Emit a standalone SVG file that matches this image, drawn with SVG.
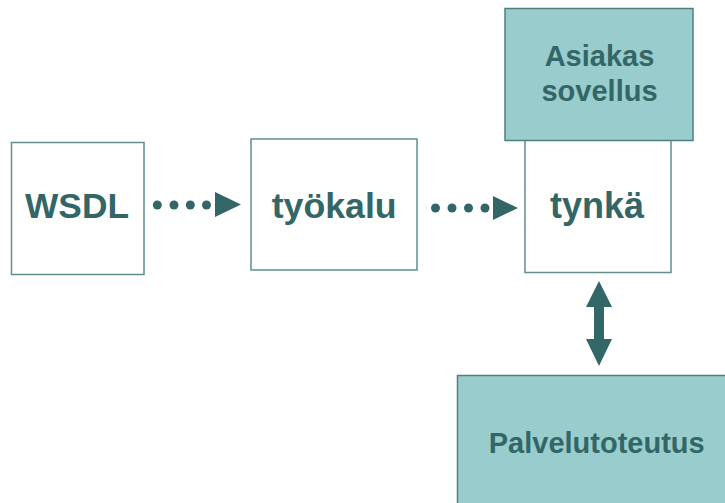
<svg xmlns="http://www.w3.org/2000/svg" width="725" height="503" viewBox="0 0 725 503">
<style>
.box{fill:#ffffff;stroke:#5f8f8f;stroke-width:1.5}
.fill{fill:#99cccc;stroke:#4f8080;stroke-width:1.5}
.t{font-family:"Liberation Sans",Arial,sans-serif;font-weight:bold;fill:#336666;text-anchor:middle}
.dot{fill:#336666}
</style>
<g id="wsdl"><rect class="box" x="11.5" y="142.5" width="132.5" height="132"/><text class="t" x="77" y="218" font-size="35.3">WSDL</text></g>
<g id="tyokalu"><rect class="box" x="251" y="139" width="166" height="131"/><text class="t" x="334.2" y="217.5" font-size="35.7">työkalu</text></g>
<g id="tynka"><rect class="box" x="525" y="138" width="146" height="134.5"/><text class="t" x="597" y="217.5" font-size="36">tynkä</text></g>
<g id="asiakas"><rect class="fill" x="505" y="8.5" width="188" height="132"/><text class="t" x="599.5" y="65.7" font-size="29">Asiakas</text><text class="t" x="599.5" y="101" font-size="29">sovellus</text></g>
<g id="palvelu"><rect class="fill" x="457.5" y="375.5" width="275" height="140"/><text class="t" x="596.7" y="452.7" font-size="29">Palvelutoteutus</text></g>
<g id="connectors">
<g class="dot"><circle cx="157.3" cy="205" r="4.5"/><circle cx="174" cy="205" r="4.5"/><circle cx="190.3" cy="205" r="4.5"/><circle cx="206.5" cy="205" r="4.5"/><polygon points="215,192 241,204.5 215,217"/></g>
<g class="dot"><circle cx="435.5" cy="208" r="4.5"/><circle cx="452" cy="208" r="4.5"/><circle cx="468.5" cy="208" r="4.5"/><circle cx="485" cy="208" r="4.5"/><polygon points="493,196 518,208 493,220"/></g>
<polygon class="dot" points="599,281 612,307 604,307 604,339 612,339 599,366 586,339 594,339 594,307 586,307"/>
</g>
</svg>
